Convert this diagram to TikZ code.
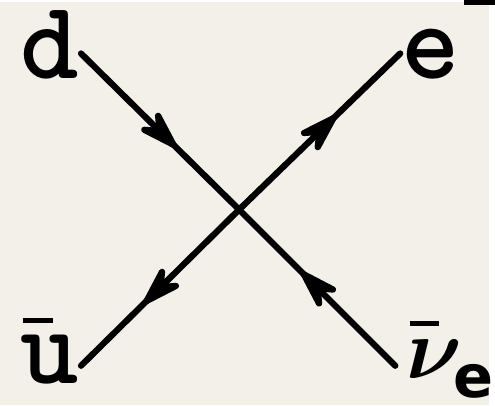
\documentclass[tikz,border=0pt]{standalone}
\usepackage{amsmath,amssymb}
\usepackage{fontspec}
\newfontfamily\subfont{DejaVu Sans}
\usetikzlibrary{arrows.meta,decorations.markings}

\definecolor{paper}{RGB}{243,240,234}
% bar over an antiparticle symbol
\newcommand{\antibar}[3][8.5pt]{\rlap{\hspace{0.8pt}\rule[#2]{#1}{1.5pt}}#3}

\begin{document}
\begin{tikzpicture}[x=0.01cm, y=-0.01cm,
    particle/.style={font=\fontsize{32}{36}\selectfont\ttfamily\bfseries, inner sep=0pt, anchor=base west},
    fermion/.style={line width=1.8pt, line cap=round, postaction={decorate},
      decoration={markings, mark=at position 0.6 with {\arrow{Stealth[length=16pt, width=10pt, inset=6pt, round]}}}}
  ]
  \fill[paper] (0,0) rectangle (495,408);

  \node[particle] (d) at (20,77) {d};
  \node[particle] (e) at (406,77) {e\kern1pt\rule[21pt]{9pt}{1.5pt}};
  \node[particle] (ubar) at (20,386) {\antibar{17.5pt}{u}};
  \node[particle] (nubar) at (411,381) {\antibar[8.5pt]{15pt}{{\fontsize{28}{30}\selectfont$\boldsymbol{\nu}$}}\kern-2.5pt\raisebox{-5.5pt}{\fontsize{17}{18}\subfont\bfseries e}};

  \coordinate (v) at (242,210);
  \coordinate (din) at (82,52);
  \coordinate (eout) at (405,52);
  \coordinate (uout) at (82,368);
  \coordinate (nuin) at (400,368);

  \draw[fermion] (din) -- (v);
  \draw[fermion] (v) -- (eout);
  \draw[fermion] (v) -- (uout);
  \draw[fermion] (nuin) -- (v);
\end{tikzpicture}
\end{document}
